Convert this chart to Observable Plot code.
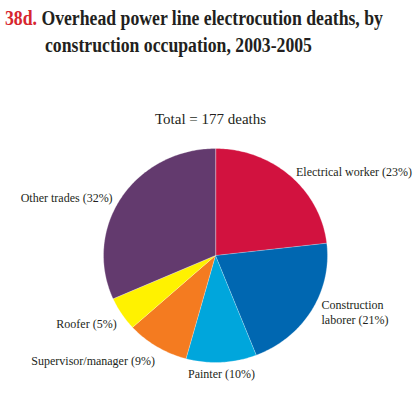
<!DOCTYPE html>
<html>
<head>
<meta charset="utf-8">
<script src="https://cdn.jsdelivr.net/npm/d3@7"></script>
<script src="https://cdn.jsdelivr.net/npm/@observablehq/plot@0.6"></script>
<style>
  html, body { margin: 0; padding: 0; background: #fff; }
  #wrap { position: relative; width: 420px; height: 395px; overflow: hidden; }
  .t { position: absolute; font-family: "Liberation Serif", "Times New Roman", serif; font-weight: bold; font-size: 20px; line-height: 27px; color: #231f20; white-space: nowrap; transform: scaleX(0.885); transform-origin: left top; }
  .t .num { color: #d7262e; }
  #chart { position: absolute; left: 0; top: 0; }
</style>
</head>
<body>
<div id="wrap">
  <div id="chart"></div>
  <div class="t" style="left:5px; top:5px;"><span class="num">38d.</span> Overhead power line electrocution deaths, by</div>
  <div class="t" style="left:45px; top:32px;">construction occupation, 2003-2005</div>
</div>
<script>
// Data (clockwise from 12 o'clock)
const occupations = ["Electrical worker", "Construction laborer", "Painter", "Supervisor/manager", "Roofer", "Other trades"];
const deaths = [41, 37, 18, 16, 9, 56];
const percents = [23, 21, 10, 9, 5, 32];
const sliceColors = ["#d2123f", "#0067b1", "#00a6dc", "#f47b20", "#fff200", "#633a6e"];
const labelTexts = ["Electrical worker (23%)", "Construction\nlaborer (21%)", "Painter (10%)", "Supervisor/manager (9%)", "Roofer (5%)", "Other trades (32%)"];
const subtitle = "Total = 177 deaths";

const total = d3.sum(deaths);
// angles via d3.pie (no sorting, clockwise from top)
const arcs = d3.pie().sort(null).value(d => d)(deaths);

// Build slice polygons in unit-circle data coordinates
const pts = [];
arcs.forEach((a, i) => {
  const name = occupations[i];
  pts.push({name, x: 0, y: 0});
  const n = Math.max(2, Math.ceil((a.endAngle - a.startAngle) / (Math.PI / 180)));
  for (let k = 0; k <= n; k++) {
    const t = a.startAngle + (a.endAngle - a.startAngle) * k / n;
    pts.push({name, x: Math.sin(t), y: Math.cos(t)});
  }
});

const labelPts = arcs.map((a, i) => {
  const m = (a.startAngle + a.endAngle) / 2;
  return {text: labelTexts[i], x: Math.sin(m), y: Math.cos(m)};
});

// label placement relative to slice mid-point on the rim
const anchors = ["start", "start", "middle", "end", "end", "end"];
const offsets = [[6, -4], [10, 1], [0, 11], [-2, 13], [-5, 9], [-9, 0]];

const cx = 215, cy = 255, rx = 112, ry = 107;

const chart = Plot.plot({
  width: 420,
  height: 395,
  margin: 0,
  x: {domain: [-1, 1], range: [cx - rx, cx + rx], axis: null},
  y: {domain: [-1, 1], range: [cy + ry, cy - ry], axis: null},
  color: {domain: occupations, range: sliceColors},
  style: {fontFamily: "'Liberation Serif', 'Times New Roman', serif", background: "white"},
  marks: [
    Plot.line(pts, {x: "x", y: "y", z: "name", fill: "name", stroke: "#ffffff", strokeWidth: 0.4, strokeOpacity: 0.7, curve: "linear-closed"}),
    Plot.text([subtitle], {text: d => d, frameAnchor: "top", dy: 113, fontSize: 15, fill: "#231f20"}),
    ...labelPts.map((d, i) => Plot.text([d], {
      x: "x", y: "y", text: "text",
      textAnchor: anchors[i], dx: offsets[i][0], dy: offsets[i][1],
      fontSize: 12, lineHeight: 1.25, fill: "#231f20"
    }))
  ]
});
document.getElementById("chart").appendChild(chart);
</script>
</body>
</html>
